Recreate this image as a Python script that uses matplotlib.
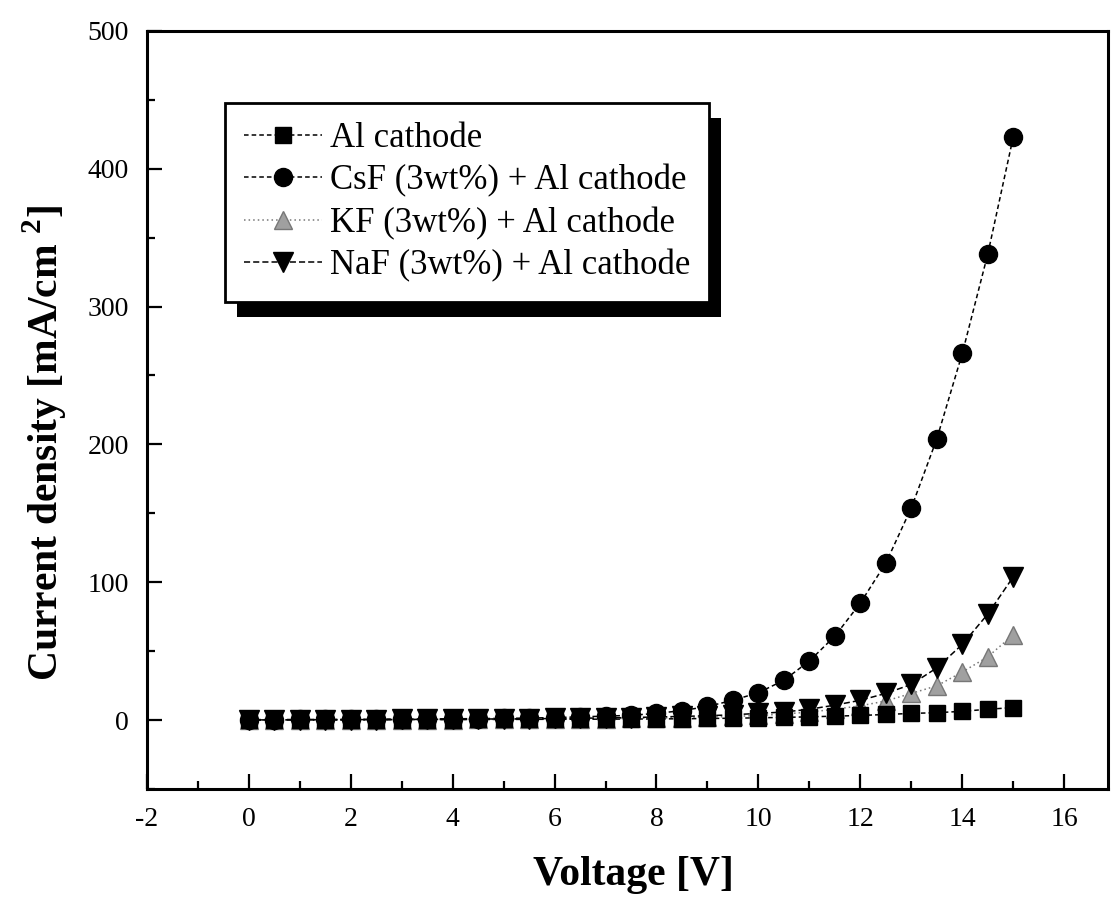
import matplotlib
matplotlib.use("Agg")
import matplotlib.pyplot as plt
from matplotlib.patches import Rectangle
from matplotlib.transforms import IdentityTransform
from matplotlib.ticker import MultipleLocator

plt.rcParams['font.family'] = ['Liberation Serif', 'DejaVu Serif']
plt.rcParams['mathtext.fontset'] = 'custom'
plt.rcParams['mathtext.rm'] = 'Liberation Serif'
plt.rcParams['mathtext.bf'] = 'Liberation Serif:bold'
plt.rcParams['axes.unicode_minus'] = False

voltage = [0, 0.5, 1, 1.5, 2, 2.5, 3, 3.5, 4, 4.5, 5, 5.5, 6, 6.5, 7, 7.5,
           8, 8.5, 9, 9.5, 10, 10.5, 11, 11.5, 12, 12.5, 13, 13.5, 14, 14.5, 15]

al = [0.2, 0.2, 0.3, 0.3, 0.3, 0.4, 0.4, 0.5, 0.5, 0.6, 0.6, 0.7, 0.7, 0.8, 0.8, 0.9,
      1.0, 1.1, 1.3, 1.5, 1.8, 2.1, 2.5, 3.0, 3.5, 4.2, 5.0, 5.5, 6.5, 8.0, 9.2]
csf = [0.5, 0.5, 0.6, 0.6, 0.7, 0.8, 0.9, 1.0, 1.1, 1.2, 1.4, 1.6, 2.0, 2.5, 3.0, 3.6,
       5.0, 7.0, 10, 14.5, 20, 29, 43, 61, 85, 114, 154, 204, 266, 338, 423]
kf = [0.2, 0.2, 0.3, 0.3, 0.3, 0.4, 0.4, 0.5, 0.5, 0.6, 0.7, 0.8, 0.9, 1.0, 1.2, 1.4,
      1.6, 1.9, 2.3, 2.8, 3.5, 4.5, 6.0, 8.0, 10.5, 14, 19.5, 25, 35, 46, 62]
naf = [0.3, 0.3, 0.4, 0.4, 0.5, 0.5, 0.6, 0.7, 0.8, 0.9, 1.0, 1.1, 1.3, 1.5, 1.7, 2.0,
       2.4, 2.8, 3.3, 4.0, 5.0, 6.0, 8.0, 11, 14.5, 19.5, 26, 38, 55, 77, 104]

labels = ['Al cathode', 'CsF (3wt%) + Al cathode',
          'KF (3wt%) + Al cathode', 'NaF (3wt%) + Al cathode']
xticks = [-2, 0, 2, 4, 6, 8, 10, 12, 14, 16]
yticks = [0, 100, 200, 300, 400, 500]

fig = plt.figure(figsize=(11.12, 9.02), dpi=100)
ax = fig.add_axes([0.132, 0.125, 0.864, 0.841])

ms = 13
ax.plot(voltage, al, linestyle=(0, (3, 2)), color='black', lw=1.1,
        marker='s', ms=ms - 1, mfc='black', mec='black', label=labels[0], zorder=3)
ax.plot(voltage, csf, linestyle=(0, (3, 2)), color='black', lw=1.1,
        marker='o', ms=ms, mfc='black', mec='black', label=labels[1], zorder=3)
ax.plot(voltage, kf, linestyle=(0, (1, 2)), color='#777777', lw=1.1,
        marker='^', ms=ms, mfc='#a0a0a0', mec='#777777', label=labels[2], zorder=2)
ax.plot(voltage, naf, linestyle=(0, (4, 2)), color='black', lw=1.1,
        marker='v', ms=ms + 1, mfc='black', mec='black', label=labels[3], zorder=3)

ax.set_xlim(-2, 16.85)
ax.set_ylim(-50, 500)
ax.set_xticks(xticks)
ax.set_yticks(yticks)
ax.xaxis.set_minor_locator(MultipleLocator(1))
ax.yaxis.set_minor_locator(MultipleLocator(50))
ax.tick_params(which='both', direction='in', top=False, right=False, width=1.6)
ax.tick_params(which='major', length=11)
ax.tick_params(which='minor', length=6)
ax.tick_params(axis='x', which='major', labelsize=20, pad=13)
ax.tick_params(axis='y', which='major', labelsize=20, pad=13)
for s in ax.spines.values():
    s.set_linewidth(2.2)

ax.set_xlabel('Voltage [V]', fontsize=30, fontweight='bold')
ax.set_ylabel(r'Current density [mA/cm $^{\mathbf{2}}$]', fontsize=30,
              fontweight='bold')
ax.xaxis.set_label_coords(0.507, -0.088)
ax.xaxis.label.set_va('top')
ax.yaxis.set_label_coords(-0.081, 0.456)

leg = ax.legend(loc='upper left', bbox_to_anchor=(0.081, 0.905), fontsize=25,
                frameon=True, fancybox=False, edgecolor='black', framealpha=1,
                handlelength=2.25, handletextpad=0.23, labelspacing=0.27,
                borderpad=0.55, borderaxespad=0)
leg.get_frame().set_linewidth(2)
leg.set_zorder(6)

fig.canvas.draw()
bb = leg.get_window_extent()
shadow = Rectangle((bb.x0 + 12, bb.y0 - 15), bb.width, bb.height,
                   transform=IdentityTransform(), facecolor='black',
                   edgecolor='none', zorder=5.5)
ax.add_artist(shadow)

fig.savefig('out.png', dpi=100)
